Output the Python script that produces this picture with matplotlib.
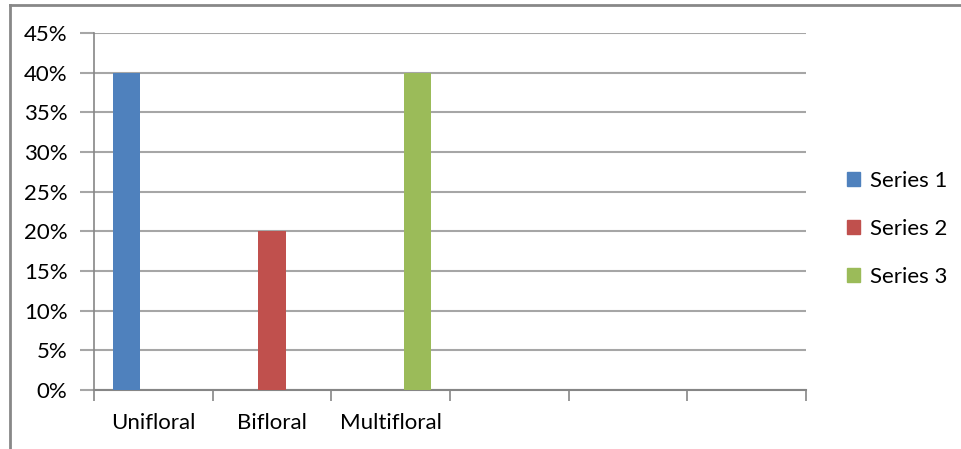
import matplotlib
matplotlib.use("Agg")
import matplotlib.pyplot as plt
from matplotlib.patches import Patch
from matplotlib.lines import Line2D
from matplotlib.ticker import FuncFormatter
import numpy as np

plt.rcParams['font.family'] = ['Lato', 'DejaVu Sans']

# categories (last three slots are empty)
categorias = ["Unifloral", "Bifloral", "Multifloral", "", "", ""]
series_nombres = ["Series 1", "Series 2", "Series 3"]
serie1 = [0.40, 0, 0, 0, 0, 0]
serie2 = [0, 0.20, 0, 0, 0, 0]
serie3 = [0, 0, 0.40, 0, 0, 0]
colores = ["#4F81BD", "#C0504D", "#9BBB59"]

fig = plt.figure(figsize=(9.61, 4.49), dpi=100)
ax = fig.add_axes([0.0978, 0.1314, 0.7409, 0.7951])

x = np.arange(len(categorias)) + 0.5
ancho = 0.228
for i, (vals, col) in enumerate(zip([serie1, serie2, serie3], colores)):
    ax.bar(x + (i - 1) * ancho, vals, width=ancho, color=col, zorder=3)

ax.set_xlim(0, len(categorias))
ax.set_ylim(0, 0.45)
ax.set_yticks(np.arange(0, 0.451, 0.05))
ax.yaxis.set_major_formatter(FuncFormatter(lambda v, p: f"{v*100:.0f}%"))
ax.yaxis.grid(True, color="#A6A6A6", linewidth=1.5, zorder=0)

# category boundaries get the tick marks, names sit in the middle
ax.set_xticks(np.arange(0, len(categorias) + 1))
ax.set_xticklabels([])
ax.set_xticks(x, minor=True)
ax.set_xticklabels(categorias, minor=True, fontsize=16)
ax.tick_params(axis="x", which="major", length=8, width=1.2, color="#868686", direction="out")
ax.tick_params(axis="x", which="minor", length=0, pad=16.5)
ax.tick_params(axis="y", length=10, width=1.5, color="#A6A6A6", pad=9, labelsize=16)

for s in ["top", "right"]:
    ax.spines[s].set_visible(False)
ax.spines["left"].set_color("#868686")
ax.spines["left"].set_linewidth(1.2)
ax.spines["bottom"].set_color("#868686")
ax.spines["bottom"].set_linewidth(1.5)

handles = [Patch(color=c) for c in colores]
fig.legend(handles, series_nombres, loc="center left", bbox_to_anchor=(0.8605, 0.49),
           frameon=False, fontsize=16, handlelength=0.6, handleheight=0.6,
           handletextpad=0.45, labelspacing=1.25)

# outer chart frame
fig.add_artist(Line2D([0.0109, 0.0109], [0, 0.989], color="#888888", linewidth=2))
fig.add_artist(Line2D([0.0109, 1], [0.989, 0.989], color="#888888", linewidth=2))

fig.savefig("out.png", dpi=100)
